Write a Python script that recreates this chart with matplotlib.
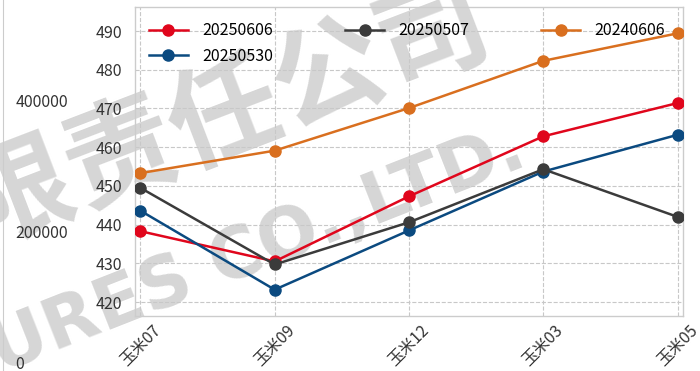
import matplotlib
matplotlib.use('Agg')
import matplotlib.pyplot as plt

plt.rcParams['font.family'] = ['Noto Sans CJK SC', 'DejaVu Sans']

# 数据
categories = ['玉米07', '玉米09', '玉米12', '玉米03', '玉米05']
s_20250606 = [438.3, 430.5, 447.3, 462.8, 471.4]
s_20250530 = [443.6, 423.2, 438.5, 453.7, 463.2]
s_20250507 = [449.5, 429.7, 440.6, 454.3, 442.0]
s_20240606 = [453.3, 459.1, 470.1, 482.3, 489.4]
left_ticks = [0, 200000, 400000]

series = [
    ('20250606', s_20250606, '#e0061c'),
    ('20250530', s_20250530, '#0b4a80'),
    ('20250507', s_20250507, '#3b3b3b'),
    ('20240606', s_20240606, '#d96f1f'),
]

W, H = 700, 371
fig = plt.figure(figsize=(7, 3.71), dpi=100)

# 水印（放在最底层）
fig.text(174 / W, 1 - 138 / H, '有限责任公司', fontsize=80, color='#d6d6d6',
         rotation=21, rotation_mode='anchor', ha='center', va='center',
         fontweight='bold', zorder=-5)
fig.text(522 / W, 1 - 146 / H, 'FUTURES CO.,LTD.', fontsize=51, color='#d6d6d6',
         rotation=21.5, rotation_mode='anchor', ha='right', va='center',
         fontweight='bold', family='DejaVu Sans', zorder=-5)

# 主图
ax = fig.add_axes([135 / W, 1 - 316 / H, 548 / W, 309 / H])
ax.patch.set_alpha(0)
x = list(range(len(categories)))
for name, vals, c in series:
    ax.plot(x, vals, color=c, lw=1.8, marker='o', markersize=8, label=name, zorder=3)

ax.set_xlim(-0.04, 4.04)
ax.set_ylim(416.4, 496.2)
ax.set_yticks([420, 430, 440, 450, 460, 470, 480, 490])
ax.set_xticks(x)
ax.set_xticklabels(categories, rotation=45, ha='center', va='top')
ax.tick_params(axis='both', length=0, labelsize=11.5, colors='#333333', pad=9)
ax.tick_params(axis='x', pad=4)
ax.grid(True, ls='--', color='#c8c8c8', lw=0.8, zorder=0)
for sp in ax.spines.values():
    sp.set_color('#cccccc')
    sp.set_linewidth(1.0)

ax.legend(loc='upper left', bbox_to_anchor=(0.025, 0.951), ncol=3, frameon=False,
          fontsize=11.5, borderpad=0, borderaxespad=0, handlelength=2.45,
          handletextpad=0.9, columnspacing=4.5, labelspacing=0.55)

# 左侧副轴
axl = fig.add_axes([0, 0, 3 / W, 1])
axl.set_ylim(-12214, 554198)
axl.set_yticks(left_ticks)
axl.set_yticklabels([str(v) for v in left_ticks])
axl.yaxis.tick_right()
axl.tick_params(axis='y', length=0, labelsize=11.5, colors='#333333', pad=9)
axl.set_xticks([])
for k, sp in axl.spines.items():
    sp.set_visible(k == 'right')
axl.spines['right'].set_color('#cccccc')
axl.patch.set_alpha(0)

fig.savefig('out.png', dpi=100)
